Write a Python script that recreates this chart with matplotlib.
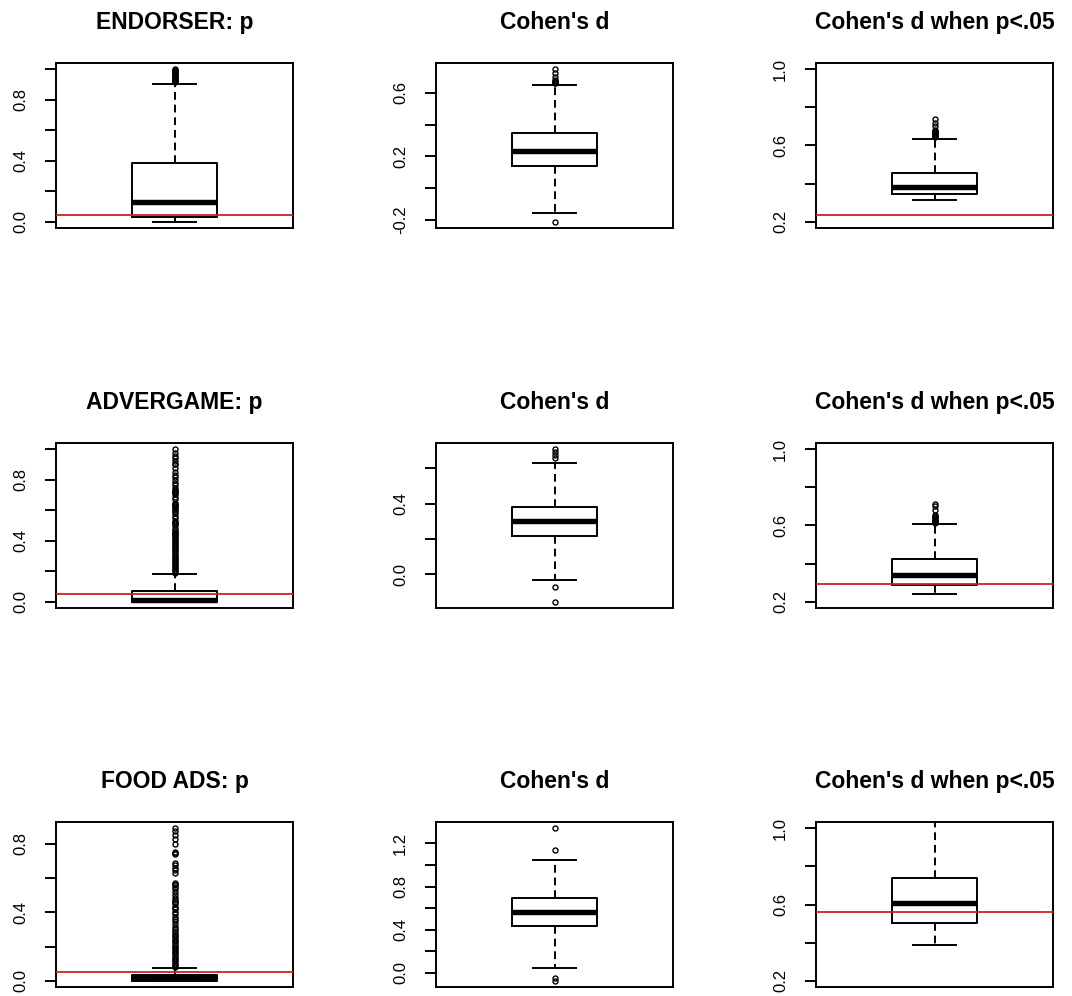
import numpy as np
import matplotlib
matplotlib.use("Agg")
import matplotlib.pyplot as plt

plt.rcParams['font.family'] = ['Liberation Sans', 'DejaVu Sans']

# panel titles, row by row
titles = ["ENDORSER: p", "Cohen's d", "Cohen's d when p<.05",
          "ADVERGAME: p", "Cohen's d", "Cohen's d when p<.05",
          "FOOD ADS: p", "Cohen's d", "Cohen's d when p<.05"]

# box statistics
whislo = [0.0, -0.157, 0.312, 0.0, -0.032, 0.24, 0.0, 0.045, 0.389]
q1s = [0.035, 0.141, 0.344, 0.002, 0.218, 0.289, 0.001, 0.43, 0.501]
medians = [0.13, 0.236, 0.383, 0.014, 0.303, 0.343, 0.017, 0.567, 0.609]
q3s = [0.385, 0.347, 0.457, 0.072, 0.382, 0.422, 0.035, 0.697, 0.738]
whishi = [0.90, 0.652, 0.633, 0.18, 0.634, 0.61, 0.076, 1.05, 1.10]

fliers_endorser_p = [0.915, 0.92, 0.925, 0.93, 0.935, 0.94, 0.945, 0.95, 0.955,
                     0.96, 0.965, 0.97, 0.975, 0.98, 0.985, 0.99, 0.995, 1.0]
fliers_endorser_d = [0.66, 0.665, 0.67, 0.675, 0.68, 0.70, 0.725, 0.75, -0.214]
fliers_endorser_dsig = [0.645, 0.65, 0.655, 0.66, 0.665, 0.67, 0.675, 0.68,
                        0.70, 0.72, 0.74]
fliers_advergame_p = [1.0, 0.972, 0.954, 0.94, 0.925, 0.905, 0.9, 0.875, 0.853,
                      0.831, 0.816, 0.798, 0.781, 0.766, 0.744, 0.735, 0.728,
                      0.72, 0.712, 0.705, 0.689, 0.672, 0.65, 0.642, 0.635,
                      0.628, 0.62, 0.61, 0.6, 0.59, 0.58, 0.565, 0.55, 0.53,
                      0.522, 0.515, 0.508, 0.5, 0.475, 0.468, 0.46, 0.452,
                      0.445, 0.438, 0.43, 0.42, 0.41, 0.4, 0.39, 0.38, 0.37,
                      0.36, 0.35, 0.34, 0.33, 0.32, 0.31, 0.3, 0.29, 0.28,
                      0.27, 0.26, 0.25, 0.24, 0.23, 0.22, 0.21, 0.2, 0.19]
fliers_advergame_d = [0.659, 0.676, 0.691, 0.71, -0.07, -0.157]
fliers_advergame_dsig = [0.615, 0.62, 0.625, 0.63, 0.635, 0.64, 0.645, 0.65,
                         0.655, 0.683, 0.70, 0.714]
fliers_food_p = [0.891, 0.872, 0.849, 0.826, 0.801, 0.749, 0.745, 0.739,
                 0.690, 0.676, 0.661, 0.648, 0.632, 0.571, 0.566, 0.561,
                 0.546, 0.533, 0.519, 0.498, 0.485, 0.469, 0.462, 0.460,
                 0.447, 0.431, 0.425, 0.418, 0.402, 0.389, 0.374, 0.360,
                 0.347, 0.332, 0.316, 0.30, 0.29, 0.28, 0.27, 0.26, 0.25,
                 0.24, 0.23, 0.22, 0.21, 0.20, 0.19, 0.18, 0.17, 0.16, 0.15,
                 0.14, 0.13, 0.12, 0.11, 0.10, 0.09, 0.08]
fliers_food_d = [1.136, 1.342, -0.045, -0.076]
fliers_food_dsig = []

fliers = [fliers_endorser_p, fliers_endorser_d, fliers_endorser_dsig,
          fliers_advergame_p, fliers_advergame_d, fliers_advergame_dsig,
          fliers_food_p, fliers_food_d, fliers_food_dsig]

# red reference lines (None = no line)
ref_lines = [0.046, None, 0.235, 0.05, None, 0.295, 0.053, None, 0.561]

# fixed range for the "when p<.05" column
dsig_range = (0.2, 1.0)

W, H = 1072, 996
fig = plt.figure(figsize=(W / 100, H / 100), dpi=100)

col_left = [56, 436, 816]
row_top = [63, 443, 822]
ax_w, ax_h = 237, 165

for i in range(9):
    r, c = divmod(i, 3)
    ax = fig.add_axes([col_left[c] / W, 1 - (row_top[r] + ax_h) / H, ax_w / W, ax_h / H])

    st = dict(med=medians[i], q1=q1s[i], q3=q3s[i], whislo=whislo[i],
              whishi=whishi[i], fliers=fliers[i])
    ax.bxp([st], positions=[1], widths=0.39, showfliers=True,
           boxprops=dict(color='black', linewidth=1.4),
           medianprops=dict(color='black', linewidth=3.9, solid_capstyle='butt'),
           whiskerprops=dict(color='black', linewidth=1.4, linestyle=(0, (4, 2.5))),
           capprops=dict(color='black', linewidth=1.4),
           flierprops=dict(marker='o', markerfacecolor='none', markeredgecolor='black',
                           markersize=3.6, markeredgewidth=1.0))

    if ref_lines[i] is not None:
        ax.axhline(ref_lines[i], color='#cc2222', linewidth=1.3, zorder=5)

    # R-style limits: data range plus 4%
    if c == 2:
        lo, hi = dsig_range
    else:
        vals = [whislo[i], whishi[i]] + fliers[i]
        lo, hi = min(vals), max(vals)
    pad = (hi - lo) * 0.04
    ax.set_ylim(lo - pad, hi + pad)
    ax.set_xlim(0.46, 1.54)

    ticks = np.arange(np.ceil((lo - pad) / 0.2 - 1e-9), np.floor((hi + pad) / 0.2 + 1e-9) + 1) * 0.2
    ax.set_yticks(ticks)
    labels = ["%.1f" % t if k % 2 == 0 else "" for k, t in enumerate(ticks)]
    labels = [s.replace("-0.0", "0.0") for s in labels]
    ax.set_yticklabels(labels)
    ax.tick_params(axis='y', length=8, width=1.4, pad=12, labelsize=12, labelrotation=90)
    for lab in ax.get_yticklabels():
        lab.set_va('center')
    ax.set_xticks([])
    for sp in ax.spines.values():
        sp.set_linewidth(1.4)

    ax.text(0.5, 1 + 34 / ax_h, titles[i], transform=ax.transAxes, ha='center',
            va='baseline', fontsize=16.5, fontweight='bold')

fig.savefig("out.png", dpi=100)
